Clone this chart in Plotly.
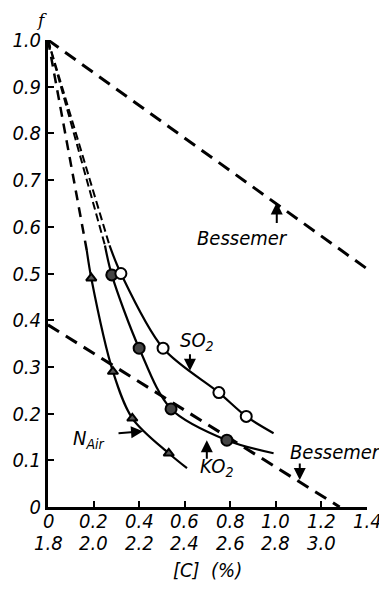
import plotly.graph_objects as go

# ---- data ----
# N_Air (triangles)
nair_x = [0.19, 0.285, 0.37, 0.53]
nair_f = [0.49, 0.29, 0.19, 0.115]
nair_line_x = [0.17, 0.19, 0.285, 0.37, 0.53, 0.61]
nair_line_f = [0.55, 0.49, 0.29, 0.19, 0.115, 0.083]

# KO2 (half-filled circles)
ko2_x = [0.28, 0.40, 0.54, 0.785]
ko2_f = [0.497, 0.34, 0.21, 0.143]
ko2_line_x = [0.25, 0.28, 0.40, 0.54, 0.785, 0.99]
ko2_line_f = [0.56, 0.497, 0.34, 0.21, 0.143, 0.115]

# SO2 (open circles)
so2_x = [0.32, 0.505, 0.75, 0.87]
so2_f = [0.50, 0.34, 0.245, 0.194]
so2_line_x = [0.27, 0.32, 0.505, 0.75, 0.87, 0.99]
so2_line_f = [0.56, 0.50, 0.34, 0.245, 0.194, 0.158]

# Bessemer dashed lines
bess_upper_x = [0.0, 1.4]
bess_upper_f = [1.0, 0.51]
bess_lower_x = [0.0, 1.28]
bess_lower_f = [0.39, 0.0]

apex = (0.0, 1.0)

# ticks
y_ticks = [0, 0.1, 0.2, 0.3, 0.4, 0.5, 0.6, 0.7, 0.8, 0.9, 1.0]
y_ticktext = ["0", "0.1", "0.2", "0.3", "0.4", "0.5", "0.6", "0.7", "0.8", "0.9", "1.0"]
x_ticks = [0, 0.2, 0.4, 0.6, 0.8, 1.0, 1.2, 1.4]
x_ticktext = ["0", "0.2", "0.4", "0.6", "0.8", "1.0", "1.2", "1.4"]
x2_ticks = [0, 0.2, 0.4, 0.6, 0.8, 1.0, 1.2]
x2_ticktext = ["1.8", "2.0", "2.2", "2.4", "2.6", "2.8", "3.0"]

FONT = "DejaVu Sans Condensed, Liberation Sans Narrow, DejaVu Sans, sans-serif"
BLACK = "#000000"
FS = 20

fig = go.Figure()

def dashed(xs, fs, w=3, dash="13px,8px"):
    fig.add_trace(go.Scatter(x=xs, y=fs, mode="lines",
                             line=dict(color=BLACK, width=w, dash=dash),
                             hoverinfo="skip", showlegend=False, cliponaxis=False))

# dashed lines
dashed(bess_upper_x, bess_upper_f)
dashed(bess_lower_x, bess_lower_f)
dashed([apex[0], nair_line_x[0]], [apex[1], nair_line_f[0]], w=2.5, dash="10px,7px")
dashed([apex[0], ko2_line_x[0]], [apex[1], ko2_line_f[0]], w=2, dash="8px,4px")
dashed([apex[0], so2_line_x[0]], [apex[1], so2_line_f[0]], w=2, dash="8px,4px")

# solid curves
for lx, lf in [(nair_line_x, nair_line_f), (ko2_line_x, ko2_line_f), (so2_line_x, so2_line_f)]:
    fig.add_trace(go.Scatter(x=lx, y=lf, mode="lines",
                             line=dict(color=BLACK, width=2.2, shape="spline", smoothing=0.9),
                             hoverinfo="skip", showlegend=False, cliponaxis=False))

# markers
fig.add_trace(go.Scatter(x=nair_x, y=nair_f, mode="markers",
                         marker=dict(symbol="triangle-up", size=9, color="#555555",
                                     line=dict(color=BLACK, width=2)),
                         showlegend=False, cliponaxis=False))
fig.add_trace(go.Scatter(x=ko2_x, y=ko2_f, mode="markers",
                         marker=dict(symbol="circle", size=11, color="#444444",
                                     line=dict(color=BLACK, width=2)),
                         showlegend=False, cliponaxis=False))
fig.add_trace(go.Scatter(x=so2_x, y=so2_f, mode="markers",
                         marker=dict(symbol="circle", size=11, color="white",
                                     line=dict(color=BLACK, width=2)),
                         showlegend=False, cliponaxis=False))

tickfont = dict(family=FONT, size=FS, color=BLACK)

# page body adds 8px offset; margins compensate so the plot area lands where the reference has it
fig.update_layout(
    width=387, height=592,
    margin=dict(l=40, r=28, t=32, b=93),
    paper_bgcolor="white", plot_bgcolor="white",
    xaxis=dict(range=[0, 1.4], tickvals=x_ticks, showticklabels=False,
               showgrid=False, zeroline=False, showline=True, linecolor=BLACK, linewidth=3,
               ticks="inside", ticklen=6, tickwidth=2, tickcolor=BLACK, automargin=False),
    yaxis=dict(range=[0, 1.0], tickvals=y_ticks,
               ticktext=[f"<i>{t}</i>" for t in y_ticktext],
               showgrid=False, zeroline=False, showline=True, linecolor=BLACK, linewidth=3,
               ticks="inside", ticklen=6, tickwidth=2, tickcolor=BLACK,
               tickfont=tickfont, automargin=False),
    font=dict(family=FONT, color=BLACK),
)

# x tick labels, two rows
for v, t in zip(x_ticks, x_ticktext):
    fig.add_annotation(x=v, y=0, xref="x", yref="paper", yanchor="middle", yshift=-14,
                       text=f"<i>{t}</i>", showarrow=False, font=tickfont)
for v, t in zip(x2_ticks, x2_ticktext):
    fig.add_annotation(x=v, y=0, xref="x", yref="paper", yanchor="middle", yshift=-36,
                       text=f"<i>{t}</i>", showarrow=False, font=tickfont)

def label(text, x, y, **kw):
    fig.add_annotation(x=x, y=y, xref="x", yref="y", text=f"<i>{text}</i>",
                       showarrow=False, font=dict(family=FONT, size=FS, color=BLACK), **kw)

def arrow(x, y, ax, ay):
    fig.add_annotation(x=x, y=y, xref="x", yref="y", ax=ax, ay=ay, text="",
                       showarrow=True, arrowhead=2, arrowsize=1.2, arrowwidth=2,
                       arrowcolor=BLACK)

label("SO<sub>2</sub>", 0.655, 0.355)
arrow(0.623, 0.292, 0, -18)
label("KO<sub>2</sub>", 0.74, 0.085)
arrow(0.697, 0.143, 0, 20)
label("N<sub>Air</sub>", 0.18, 0.145)
arrow(0.417, 0.162, -26, 2)
label("Bessemer", 1.4, 0.117, xanchor="right", xshift=16)
arrow(1.105, 0.058, 0, -18)
label("Bessemer", 0.855, 0.575)
arrow(1.004, 0.652, 0, 22)

fig.add_annotation(x=-0.045, y=1.0, xref="paper", yref="paper", yanchor="middle",
                   yshift=20, text="<i>f</i>", showarrow=False,
                   font=dict(family="DejaVu Serif, serif", size=17, color=BLACK))
fig.add_annotation(x=0.70, y=0, xref="x", yref="paper", yanchor="middle",
                   yshift=-63, text="<i>[C]  (%)</i>", showarrow=False,
                   font=dict(family=FONT, size=FS, color=BLACK))

fig.write_html("out.html")
